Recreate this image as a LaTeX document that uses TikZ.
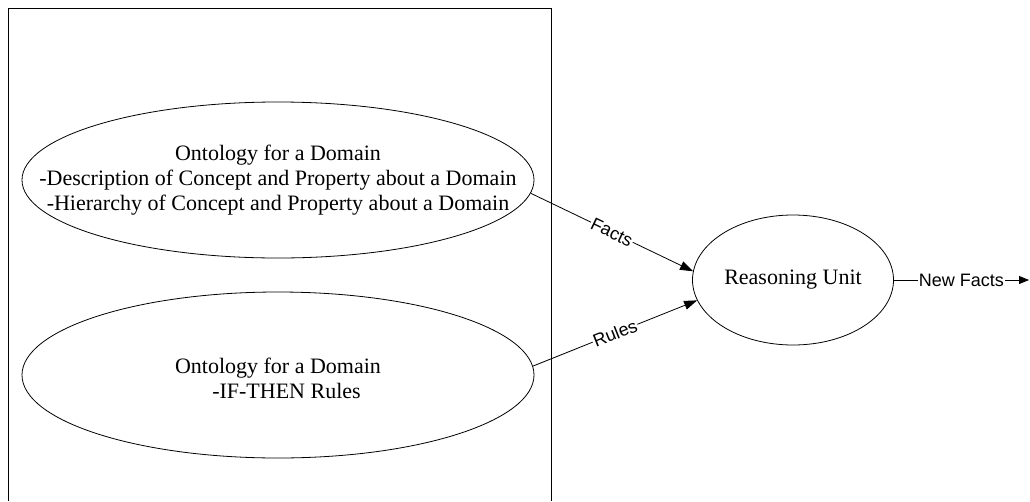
\documentclass[tikz,border=0pt]{standalone}
\usepackage{fontspec}
\setmainfont{Liberation Serif}
\setsansfont{Liberation Sans}
\usetikzlibrary{arrows.meta, shapes.geometric}

\begin{document}
\begin{tikzpicture}[x=1pt, y=-1pt, >={Triangle[length=13pt, width=9pt]},
    onto/.style={draw, ellipse, line width=0.8pt, inner sep=0pt},
    txt/.style={align=center, inner sep=0pt, font=\fontsize{22}{25}\selectfont},
    lbl/.style={fill=white, inner sep=1pt, font=\sffamily\fontsize{18}{20}\selectfont}]
    \useasboundingbox (0,0) rectangle (1030,501);
    % knowledge base frame (open at the bottom)
    \draw[line width=0.8pt] (8,501) -- (8,8) -- (551,8) -- (551,501);
    \node[onto, minimum width=512pt, minimum height=156pt] (facts) at (278,180) {};
    \node[txt] (factstxt) at (facts)
        {Ontology for a Domain\\-Description of Concept and Property about a Domain\\-Hierarchy of Concept and Property about a Domain};
    \node[onto, minimum width=512pt, minimum height=166pt] (rules) at (278,375) {};
    \node[txt] (rulestxt) at (278,378) {Ontology for a Domain\\\hspace*{17pt}-IF-THEN Rules};
    \node[onto, txt, minimum width=201pt, minimum height=130pt] (reason) at (793,280) {Reasoning Unit};
    \coordinate (out) at (1029,280);
    \draw[->, line width=0.8pt] (facts.-3) -- node[lbl, sloped] {Facts} (reason.175);
    \draw[->, line width=0.8pt] (rules.2) -- node[lbl, sloped] {Rules} (reason.-168);
    \draw[-{Triangle[length=10pt, width=8pt]}, line width=0.8pt] (reason.east) -- node[lbl] {New Facts} (out);
\end{tikzpicture}
\end{document}
